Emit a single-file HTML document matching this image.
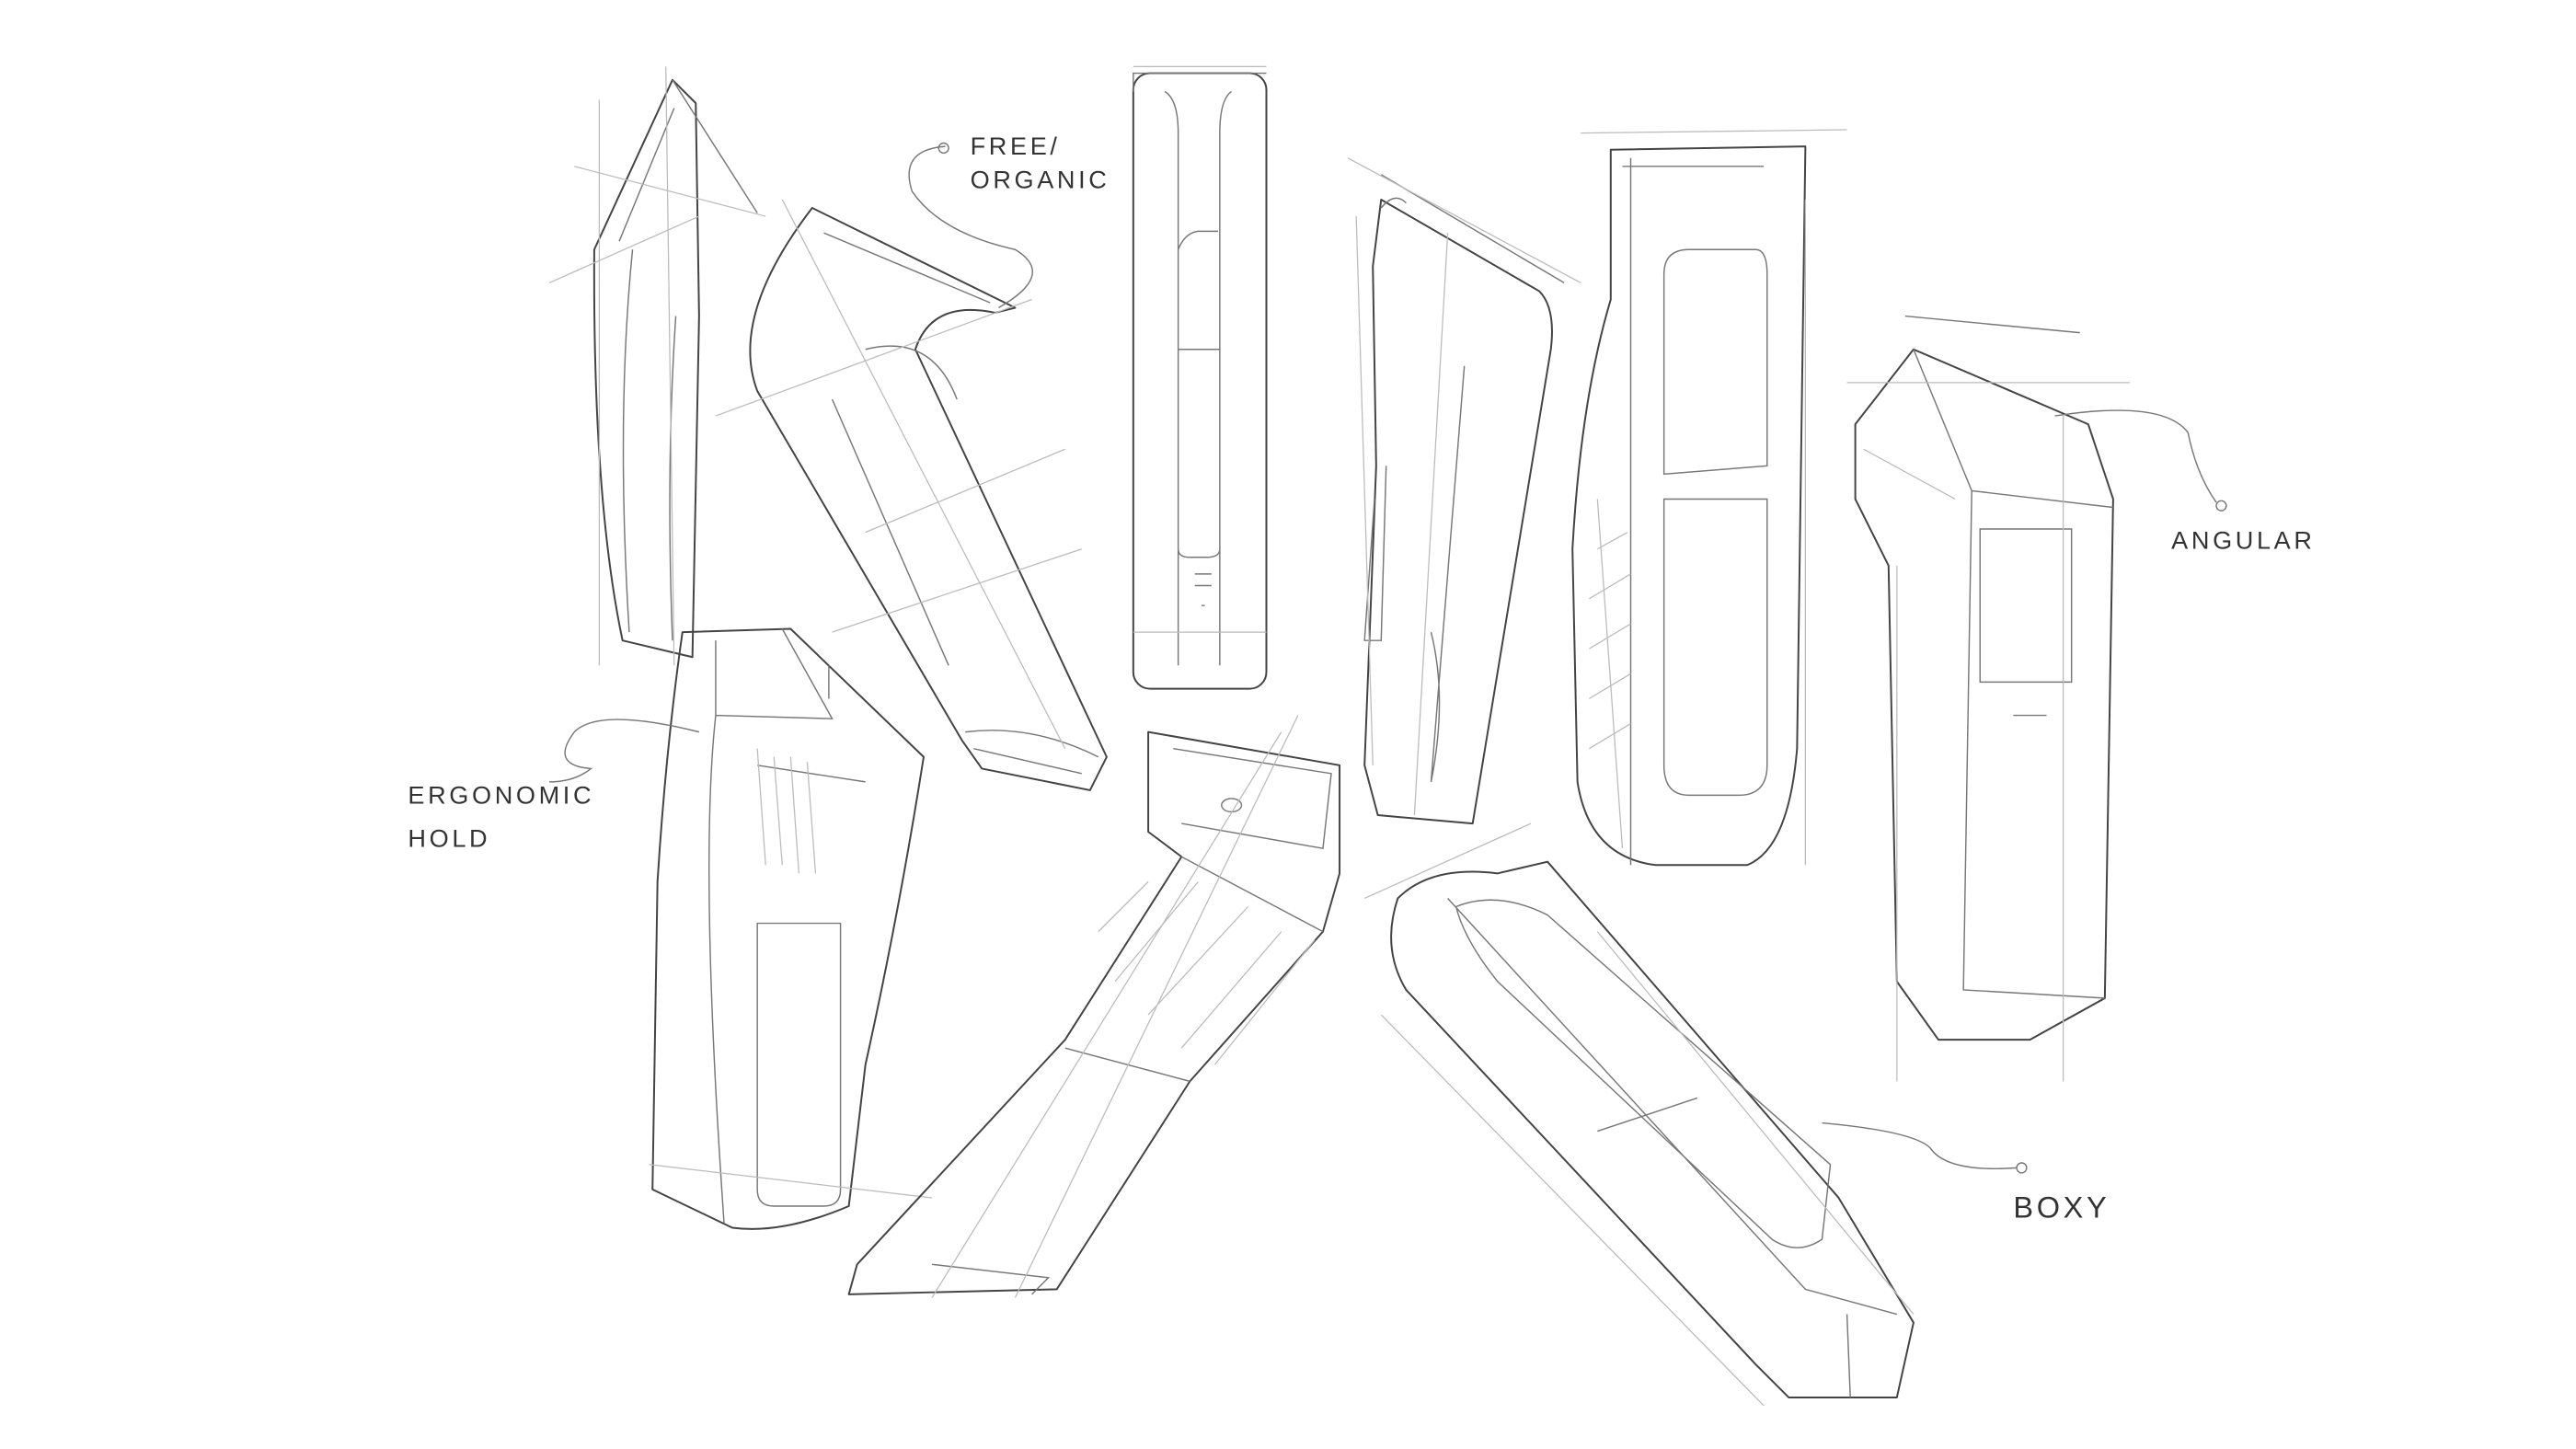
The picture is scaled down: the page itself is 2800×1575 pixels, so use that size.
<!DOCTYPE html>
<html><head><meta charset="utf-8"><style>
html,body{margin:0;padding:0;background:#fff;}
svg{display:block;}
text{font-family:"Liberation Sans",sans-serif;fill:#333;font-size:15px;letter-spacing:2px;}
.d{fill:none;stroke:#444;stroke-width:1.1;stroke-linejoin:round;stroke-linecap:round}
.l{fill:none;stroke:#bbb;stroke-width:0.7}
.m{fill:none;stroke:#777;stroke-width:0.8}
</style></head><body>
<svg width="2800" height="1575" viewBox="0 0 1548 871" xmlns="http://www.w3.org/2000/svg">
<!-- Device 1 -->
<g>
<path class="d" d="M357,150 L404,48 L418,62 L420,190 L416,395 L374,385 Q356,300 357,150Z"/>
<path class="m" d="M372,145 L405,65 M404,48 L455,128 M380,150 Q370,250 378,380 M406,190 Q400,280 404,385"/>
<path class="l" d="M330,170 L420,130 M345,100 L460,130 M400,40 L405,400 M360,60 L360,400"/>
</g>
<!-- Device 2 tilted -->
<g>
<path class="d" d="M488,125 L610,185 L598,188 Q560,180 550,210 L665,455 L655,475 L590,462 L578,445 L455,235 Q438,190 488,125Z"/>
<path class="m" d="M495,140 L595,182 M580,440 Q620,435 660,455 M585,450 L650,465 M500,240 L570,400 M520,210 Q560,200 575,240"/>
<path class="l" d="M430,250 L620,180 M470,120 L640,450 M520,320 L640,270 M500,380 L650,330"/>
</g>
<!-- Device 3 center -->
<g>
<rect class="d" x="681" y="44" width="80" height="370" rx="10"/>
<path class="m" d="M681,55 L681,44 L761,44 M700,55 Q708,60 708,80 L708,400 M740,55 Q733,60 733,80 L733,400 M708,150 Q712,140 720,139 L732,139 M708,210 L733,210 L733,330 Q733,335 725,335 L715,335 Q708,335 708,330Z"/>
<path class="m" d="M718,345 L728,345 M718,352 L728,352 M722,364 L724,364"/>
<path class="l" d="M681,380 L761,380 M681,40 L761,40"/>
</g>
<!-- Device 4 -->
<g>
<path class="d" d="M830,120 L925,175 Q935,185 932,210 L885,495 L828,490 L820,460 L827,280 L825,160Z"/>
<path class="m" d="M830,105 L940,170 M830,125 Q838,115 845,122 M826,300 L820,385 L830,385 L833,280 M860,380 Q870,420 860,470 M880,220 L860,470"/>
<path class="l" d="M810,95 L950,170 M815,130 L825,460 M870,140 L850,490"/>
</g>
<!-- Device 5 -->
<g>
<path class="d" d="M968,90 L1085,88 L1080,450 Q1075,510 1050,520 L995,520 Q955,515 948,470 L945,330 Q950,240 968,180Z"/>
<path class="m" d="M975,100 L1060,100 M1000,165 Q1000,150 1015,150 L1055,150 Q1062,150 1062,165 L1062,280 L1000,285Z M1000,300 L1062,300 L1062,460 Q1062,478 1045,478 L1015,478 Q1000,478 1000,460Z M980,95 L980,520"/>
<path class="l" d="M950,80 L1110,78 M960,300 L975,510 M960,330 L978,320 M955,360 L980,345 M955,390 L980,375 M955,420 L980,405 M955,450 L980,435 M1085,120 L1085,520"/>
</g>
<!-- Device 6 -->
<g>
<path class="d" d="M1150,210 L1255,255 L1270,300 L1265,600 L1220,625 L1165,625 L1140,590 L1135,340 L1115,300 L1115,255Z"/>
<path class="m" d="M1145,190 L1250,200 M1150,210 L1185,295 L1270,305 M1185,295 L1180,595 L1265,600 M1190,318 L1245,318 L1245,410 L1190,410Z M1210,430 L1230,430"/>
<path class="l" d="M1120,270 L1175,300 M1110,230 L1280,230 M1140,340 L1140,650 M1240,250 L1240,650"/>
</g>
<!-- Device 7 ergonomic -->
<g>
<path class="d" d="M410,380 L475,378 L555,455 Q540,550 520,640 L510,725 Q470,742 440,738 L392,715 L395,530 Q400,450 410,380Z"/>
<path class="m" d="M430,385 L430,430 L500,432 L470,378 M430,430 Q420,520 435,735 M455,555 L505,555 L505,715 Q505,725 495,725 L465,725 Q455,725 455,715Z M455,460 L520,470 M498,400 L498,420"/>
<path class="l" d="M455,450 L460,520 M465,455 L470,520 M475,455 L480,525 M485,458 L490,525 M390,700 L560,720"/>
</g>
<!-- Device 8 tilted -->
<g>
<path class="d" d="M690,440 L805,460 L805,525 L795,560 L715,650 L635,775 L510,778 L515,760 L640,625 L710,515 L690,500Z"/>
<path class="m" d="M705,450 L800,465 L795,510 L710,495 M640,630 L715,650 M710,515 L795,560 M560,760 L630,768 L620,778 M740,480 a6,4 0 1 0 0.1,0"/>
<path class="l" d="M660,560 L690,530 M670,590 L720,530 M690,610 L750,545 M710,630 L770,560 M730,640 L790,565 M780,430 L610,780 M770,440 L560,780"/>
</g>
<!-- Device 9 tilted -->
<g>
<path class="d" d="M840,540 Q860,520 900,525 L930,518 L1105,720 L1150,795 L1140,840 L1075,840 L1055,820 L845,595 Q830,570 840,540Z"/>
<path class="m" d="M870,540 L1085,775 L1140,790 M875,545 Q900,535 930,550 L1100,700 L1095,745 Q1080,755 1065,745 L900,590 Q880,565 875,545Z M960,680 L1020,660 M1110,790 L1112,840"/>
<path class="l" d="M820,540 L920,495 M830,610 L1060,845 M960,560 L1150,790"/>
</g>
<!-- Labels and leaders -->
<text x="583" y="93">FREE/</text>
<text x="583" y="113">ORGANIC</text>
<path class="m" d="M568,88 Q540,90 548,115 Q565,140 610,150 Q635,165 600,185"/>
<circle cx="567" cy="89" r="3" class="m"/>
<text x="1305" y="330">ANGULAR</text>
<path class="m" d="M1235,250 Q1300,240 1315,260 Q1320,285 1332,302"/>
<circle cx="1335" cy="304" r="3" class="m"/>
<text x="245" y="483">ERGONOMIC</text>
<text x="245" y="509">HOLD</text>
<path class="m" d="M420,440 Q360,425 345,440 Q330,460 355,462 Q345,470 330,470"/>
<text x="1210" y="732" style="font-size:18px">BOXY</text>
<path class="m" d="M1095,675 Q1150,680 1160,690 Q1170,705 1212,702"/>
<circle cx="1215" cy="702" r="3" class="m"/>
</svg>
</body></html>
